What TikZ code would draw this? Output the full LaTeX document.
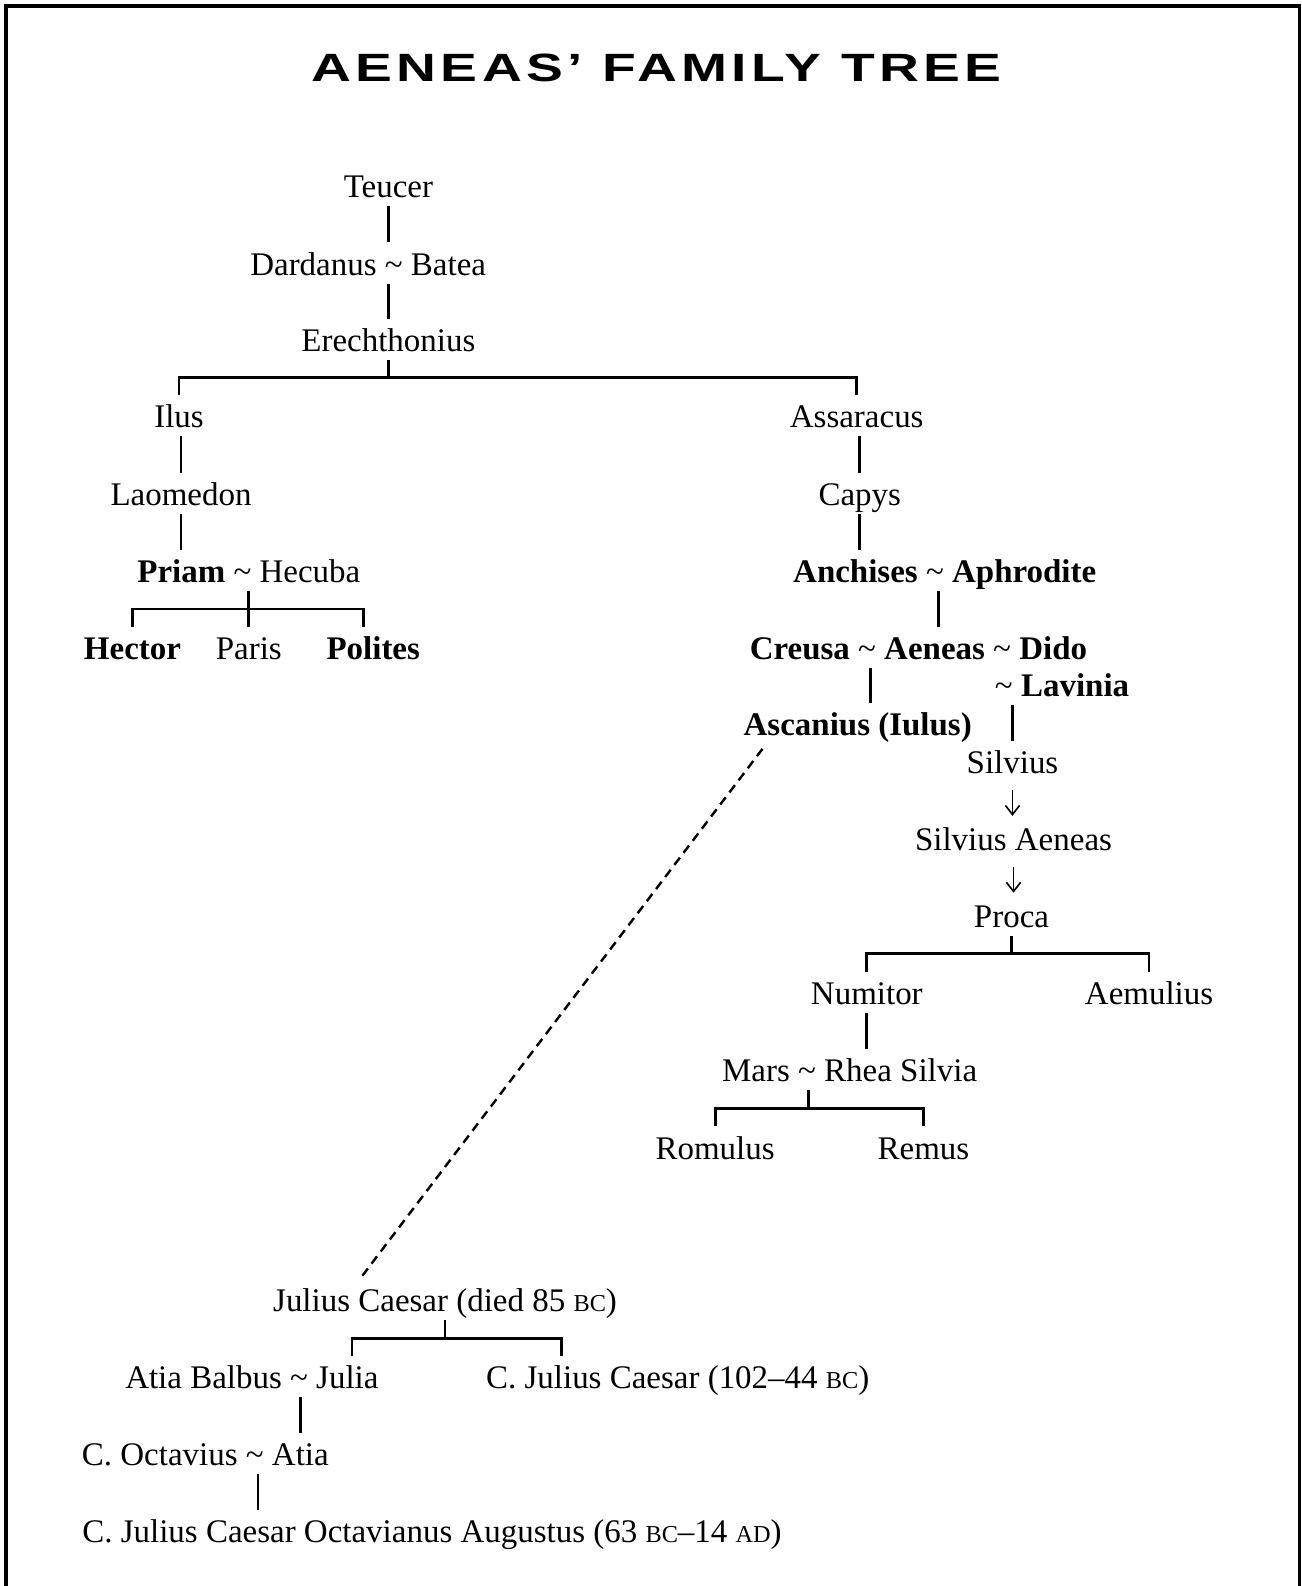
\documentclass[tikz,border=0pt]{standalone}
\usepackage{fontspec}
\usepackage{graphicx}
\usepackage{tikz}
\usetikzlibrary{arrows.meta, positioning, calc}
\setmainfont{Liberation Serif}
\newfontfamily\titlefont[LetterSpace=7.8]{Liberation Sans}
\newcommand{\wed}{~\textmd{\textasciitilde}~}
\newcommand{\era}[1]{{\fontsize{12}{14}\selectfont #1}}

\begin{document}
\begin{tikzpicture}[
    x=0.5pt, y=-0.5pt,
    person/.style={inner sep=0pt, text height=16pt, text depth=4pt, font=\fontsize{16.3}{19}\selectfont},
    heading/.style={inner sep=0pt, font=\titlefont\bfseries\fontsize{19.5}{22}\selectfont},
    link/.style={line width=1.4pt},
    descent/.style={line width=0.8pt, -{Straight Barb[length=4.5pt, width=7pt]}, shorten <=4pt, shorten >=1pt},
    lineage/.style={line width=1.2pt, dash pattern=on 4.5pt off 3pt},
    frame/.style={line width=1.6pt}
]
\useasboundingbox (0,0) rectangle (1287,1568);

% Frame and title
\draw[frame] (6,1568) -- (6,6) -- (1285,6) -- (1285,1568);
\draw[frame, line width=2.2pt] (6,6) -- (1285,6);
\node[heading] (title) at (649,67) {\scalebox{1.4}[1]{AENEAS’ FAMILY TREE}};

% Trojan line
\node[person] (teucer) at (384,183) {Teucer};
\node[person] (dardanus) at (364,260) {Dardanus\wed Batea};
\node[person] (erech) at (384,336) {Erechthonius};
\node[person] (ilus) at (177,411) {Ilus};
\node[person] (laomedon) at (179,488) {Laomedon};
\node[person] (priam) at (246,564) {\textbf{Priam}\wed Hecuba};
\node[person] (hector) at (131,640) {\textbf{Hector}};
\node[person] (paris) at (246,640) {Paris};
\node[person] (polites) at (369,640) {\textbf{Polites}};

% Dardanian line
\node[person] (assaracus) at (847,411) {Assaracus};
\node[person] (capys) at (850,488) {Capys};
\node[person] (anchises) at (934,564) {\textbf{Anchises\wed Aphrodite}};
\node[person] (aeneas) at (908,640) {\textbf{Creusa\wed Aeneas\wed Dido}};
\node[person] (lavinia) at (1050,677) {\textasciitilde~\textbf{Lavinia}};
\node[person] (ascanius) at (848,715) {\textbf{Ascanius (Iulus)}};
\node[person] (silvius) at (1001,753) {Silvius};
\node[person] (silvaeneas) at (1002,829) {Silvius Aeneas};
\node[person] (proca) at (1000,905) {Proca};
\node[person] (numitor) at (857,981) {Numitor};
\node[person] (amulius) at (1136,981) {Aemulius};
\node[person] (mars) at (840,1057) {Mars\wed Rhea Silvia};
\node[person] (romulus) at (707,1134) {Romulus};
\node[person] (remus) at (913,1134) {Remus};

% Julian line
\node[person] (julius) at (440,1285) {Julius Caesar (died 85 \era{BC})};
\node[person] (julia) at (249,1361) {Atia Balbus\wed Julia};
\node[person] (caesar) at (670,1361) {C. Julius Caesar (102--44 \era{BC})};
\node[person] (octavius) at (203,1437) {C. Octavius\wed Atia};
\node[person, anchor=west] (augustus) at (81,1513) {C. Julius Caesar Octavianus Augustus (63 \era{BC}--14 \era{AD})};

% Descent lines
\draw[link] (teucer.south) -- (teucer.south |- dardanus.north);
\draw[link] (erech.north |- dardanus.south) -- (erech.north);
\coordinate (erbar) at ($(erech.south)!0.5!(erech.south |- ilus.north)$);
\draw[link] (erech.south) -- (erbar);
\draw[link] (ilus.north) |- (erbar) -| (assaracus.north);

\draw[link] (laomedon.north |- ilus.south) -- (laomedon.north);
\draw[link] (laomedon.south) -- (laomedon.south |- priam.north);
\coordinate (pribar) at ($(priam.south)!0.5!(priam.south |- paris.north)$);
\coordinate (politesdrop) at ([xshift=-5pt]polites.north);
\draw[link] (priam.south) -- (paris.north);
\draw[link] (hector.north) |- (pribar) -| (politesdrop);

\draw[link] (capys.north |- assaracus.south) -- (capys.north);
\draw[link] (capys.south) -- (capys.south |- anchises.north);
\coordinate (anchdrop) at ([xshift=-3pt]anchises.south);
\draw[link] (anchdrop) -- (anchdrop |- aeneas.north);
\coordinate (creusadrop) at ([xshift=6.5pt]ascanius.north);
\draw[link] (creusadrop |- aeneas.south) -- (creusadrop);
\draw[link] (silvius.north |- lavinia.south) -- (silvius.north);
\draw[descent] (silvius.south) -- (silvius.south |- silvaeneas.north);
\draw[descent] (silvaeneas.south) -- (silvaeneas.south |- proca.north);

\coordinate (procabar) at ($(proca.south)!0.5!(proca.south |- numitor.north)$);
\draw[link] (proca.south) -- (procabar);
\draw[link] (numitor.north) |- (procabar) -| (amulius.north);
\draw[link] (numitor.south) -- (numitor.south |- mars.north);
\coordinate (marsdrop) at ([xshift=-20.5pt]mars.south);
\coordinate (marsbar) at ($(marsdrop)!0.5!(marsdrop |- romulus.north)$);
\draw[link] (marsdrop) -- (marsbar);
\draw[link] (romulus.north) |- (marsbar) -| (remus.north);

% Ascanius to the Julii
\draw[lineage] ([shift={(9.5pt,-2.5pt)}]ascanius.south west) -- ([xshift=43pt]julius.north west);

\coordinate (julbar) at ($(julius.south)!0.5!(julius.south |- julia.north)$);
\draw[link] (julius.south) -- (julbar);
\coordinate (juliadrop) at ([xshift=49.5pt]julia.north);
\coordinate (caesardrop) at ([xshift=-57.5pt]caesar.north);
\draw[link] (juliadrop) |- (julbar) -| (caesardrop);
\coordinate (atiadrop) at ([xshift=24pt]julia.south);
\draw[link] (atiadrop) -- (atiadrop |- octavius.north);
\coordinate (octdrop) at ([xshift=26pt]octavius.south);
\draw[link] (octdrop) -- (octdrop |- augustus.north);

\end{tikzpicture}
\end{document}
